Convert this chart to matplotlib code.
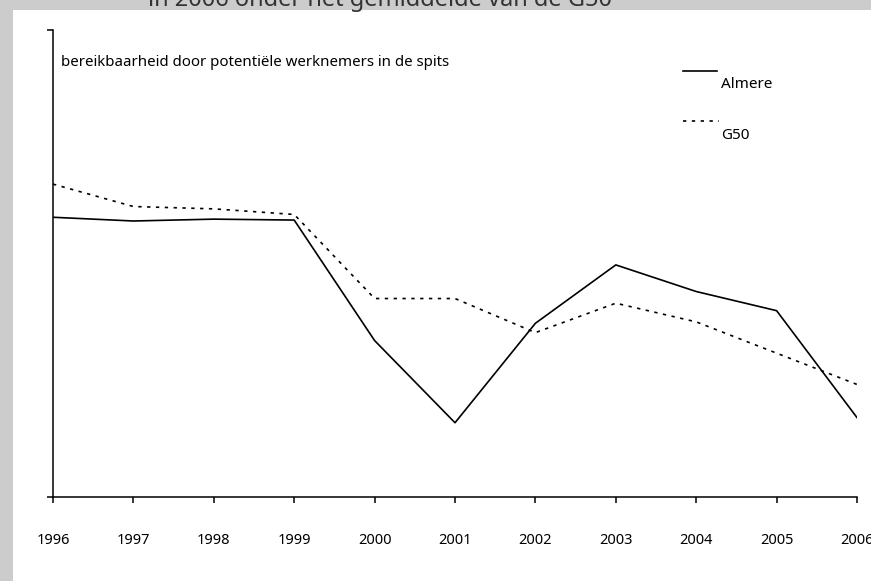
#grafiek bereikbaarheid Almere tegenover het gemiddelde van de G50

import matplotlib.pyplot as plt
from matplotlib.lines import Line2D
from matplotlib.patches import Rectangle

#jaren en waarden (index, as loopt van 0 tot 100)
jaren = [1996, 1997, 1998, 1999, 2000, 2001, 2002, 2003, 2004, 2005, 2006]
almere = [59.9, 59.1, 59.5, 59.3, 33.5, 15.9, 37.2, 49.7, 44.0, 39.9, 17.0]
g50 = [67.0, 62.2, 61.7, 60.5, 42.5, 42.5, 35.2, 41.5, 37.5, 30.8, 24.1]

titel = 'in 2006 onder het gemiddelde van de G50'
as_tekst = 'bereikbaarheid door potentiële werknemers in de spits'

plt.rcParams['font.family'] = ['Noto Sans', 'DejaVu Sans']

fig = plt.figure(figsize=(8.71, 5.81), dpi=100)

#grijze rand boven en links
grijs = '#cccccc'
fig.patches.append(Rectangle((0, 1 - 10/581), 1, 10/581, transform=fig.transFigure,
                             facecolor=grijs, edgecolor='none', zorder=0))
fig.patches.append(Rectangle((0, 0), 13/871, 1, transform=fig.transFigure,
                             facecolor=grijs, edgecolor='none', zorder=0))
fig.text(148/871, 1 - 6/581, titel, fontsize=17, color='#333333', va='baseline')

ax = fig.add_axes([53/871, 1 - 497/581, 804/871, 467/581])

#lijnen
stippel = (0, (2, 3.3))
ax.plot(jaren, almere, color='black', linewidth=1.2)
ax.plot(jaren, g50, color='black', linewidth=1.2, linestyle=stippel)

ax.set_xlim(1996, 2006)
ax.set_ylim(0, 100)

#assen: alleen links en onder
for kant in ['top', 'right']:
    ax.spines[kant].set_visible(False)
ax.spines['left'].set_linewidth(1.1)
ax.spines['bottom'].set_linewidth(1.1)

ax.set_xticks(jaren)
ax.set_xticklabels([str(j) for j in jaren], fontsize=10.5)
ax.tick_params(axis='x', direction='out', length=4, width=1.1, pad=22)
ax.set_yticks([0, 100])
ax.set_yticklabels([])
ax.tick_params(axis='y', direction='out', length=4, width=1.1)

ax.text(8/804, 1 - 32/467, as_tekst, transform=ax.transAxes, fontsize=10.8,
        va='center', ha='left')

#legenda met de tekst rechtsonder het lijntje
ax.add_line(Line2D([630/804, 664/804], [1 - 40.5/467, 1 - 40.5/467], transform=ax.transAxes,
                   color='black', linewidth=1.2))
ax.text(668/804, 1 - 55/467, 'Almere', transform=ax.transAxes, fontsize=11, va='center')
ax.add_line(Line2D([630/804, 666/804], [1 - 90.5/467, 1 - 90.5/467], transform=ax.transAxes,
                   color='black', linewidth=1.2, linestyle=stippel))
ax.text(668/804, 1 - 105.5/467, 'G50', transform=ax.transAxes, fontsize=11, va='center')

fig.savefig('out.png', dpi=100)
